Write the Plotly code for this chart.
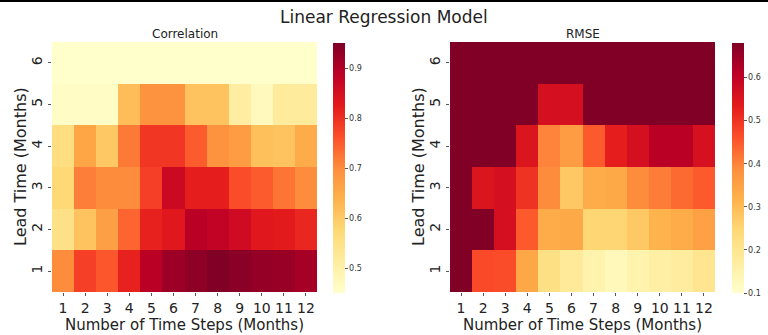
import plotly.graph_objects as go

# Axis categories
time_steps = list(range(1, 13))
lead_times = [1, 2, 3, 4, 5, 6]
tick_labels_steps = [str(s) for s in time_steps]
tick_labels_leads = [str(l) for l in lead_times]

# Correlation by lead time (rows: lead 1..6, columns: time steps 1..12)
corr_lead1 = [0.70, 0.78, 0.755, 0.815, 0.89, 0.92, 0.935, 0.95, 0.94, 0.93, 0.925, 0.91]
corr_lead2 = [0.55, 0.61, 0.67, 0.74, 0.815, 0.83, 0.89, 0.88, 0.86, 0.83, 0.825, 0.81]
corr_lead3 = [0.575, 0.715, 0.70, 0.70, 0.78, 0.865, 0.82, 0.82, 0.765, 0.75, 0.725, 0.70]
corr_lead4 = [0.56, 0.66, 0.60, 0.72, 0.79, 0.79, 0.75, 0.69, 0.675, 0.615, 0.61, 0.65]
corr_lead5 = [0.46, 0.46, 0.46, 0.62, 0.69, 0.69, 0.61, 0.61, 0.51, 0.47, 0.52, 0.52]
corr_lead6 = [0.45, 0.45, 0.45, 0.45, 0.45, 0.45, 0.45, 0.45, 0.45, 0.45, 0.45, 0.45]
correlation = [corr_lead1, corr_lead2, corr_lead3, corr_lead4, corr_lead5, corr_lead6]

# RMSE by lead time (rows: lead 1..6, columns: time steps 1..12)
rmse_lead1 = [0.68, 0.47, 0.465, 0.34, 0.22, 0.185, 0.15, 0.13, 0.15, 0.165, 0.175, 0.20]
rmse_lead2 = [0.68, 0.68, 0.565, 0.45, 0.33, 0.335, 0.25, 0.25, 0.275, 0.315, 0.33, 0.35]
rmse_lead3 = [0.68, 0.55, 0.565, 0.50, 0.39, 0.275, 0.33, 0.335, 0.39, 0.41, 0.43, 0.45]
rmse_lead4 = [0.68, 0.68, 0.68, 0.55, 0.40, 0.36, 0.45, 0.53, 0.565, 0.61, 0.61, 0.56]
rmse_lead5 = [0.68, 0.68, 0.68, 0.68, 0.565, 0.565, 0.68, 0.68, 0.68, 0.68, 0.68, 0.68]
rmse_lead6 = [0.68, 0.68, 0.68, 0.68, 0.68, 0.68, 0.68, 0.68, 0.68, 0.68, 0.68, 0.68]
rmse = [rmse_lead1, rmse_lead2, rmse_lead3, rmse_lead4, rmse_lead5, rmse_lead6]

corr_ticks = [0.5, 0.6, 0.7, 0.8, 0.9]
rmse_ticks = [0.1, 0.2, 0.3, 0.4, 0.5, 0.6]

# ColorBrewer YlOrRd (9 classes)
ylorrd = ["#ffffcc", "#ffeda0", "#fed976", "#feb24c", "#fd8d3c",
          "#fc4e2a", "#e31a1c", "#bd0026", "#800026"]
colorscale = [[i / (len(ylorrd) - 1), c] for i, c in enumerate(ylorrd)]

W, H = 768, 335
FONT = "DejaVu Sans"


def px_x(p):
    return p / W


def px_y(p):
    return 1 - p / H


plot_top, plot_bottom = 42, 292
left_x0, left_x1 = 52, 317
right_x0, right_x1 = 450, 715


def colorbar(x_left, ticks):
    return dict(
        x=px_x(x_left), xanchor="left", xpad=0,
        y=px_y((43 + 293) / 2), yanchor="middle", ypad=0,
        len=250 / H, lenmode="fraction", thickness=12,
        outlinewidth=0, tickvals=ticks, ticks="outside", ticklen=3,
        tickcolor="#555", tickfont=dict(family=FONT, size=8, color="#333"),
    )


fig = go.Figure()
fig.add_trace(go.Heatmap(
    x=time_steps, y=lead_times, z=correlation, zmin=0.45, zmax=0.95,
    colorscale=colorscale, colorbar=colorbar(333, corr_ticks),
    xaxis="x", yaxis="y",
))
fig.add_trace(go.Heatmap(
    x=time_steps, y=lead_times, z=rmse, zmin=0.1, zmax=0.68,
    colorscale=colorscale, colorbar=colorbar(732, rmse_ticks),
    xaxis="x2", yaxis="y2",
))

x_common = dict(
    range=[0.5, 12.5], tickvals=time_steps, ticktext=tick_labels_steps,
    ticks="outside", ticklen=3, tickcolor="#555", showgrid=False, zeroline=False,
    showline=False, tickfont=dict(family=FONT, size=14, color="#222"),
    title=dict(text="Number of Time Steps (Months)", standoff=2,
               font=dict(family=FONT, size=15, color="#222")),
)
y_common = dict(
    range=[0.5, 6.5], tickvals=lead_times, ticktext=tick_labels_leads,
    tickangle=-90, ticks="outside", ticklen=3, tickcolor="#555",
    showgrid=False, zeroline=False, showline=False,
    domain=[px_y(plot_bottom), px_y(plot_top)],
    tickfont=dict(family=FONT, size=14, color="#222"),
)


def text_note(text, x, y, size, angle=0):
    return dict(text=text, x=x, y=y, xref="paper", yref="paper",
                xanchor="center", yanchor="middle", showarrow=False,
                textangle=angle, font=dict(family=FONT, size=size, color="#222"))


plot_mid_y = px_y((plot_top + plot_bottom) / 2)

fig.update_layout(
    width=W, height=H, margin=dict(l=0, r=0, t=0, b=0),
    paper_bgcolor="white", plot_bgcolor="white",
    xaxis=dict(domain=[px_x(left_x0), px_x(left_x1)], anchor="y", **x_common),
    yaxis=dict(anchor="x", **y_common),
    xaxis2=dict(domain=[px_x(right_x0), px_x(right_x1)], anchor="y2", **x_common),
    yaxis2=dict(anchor="x2", **y_common),
    showlegend=False,
    annotations=[
        text_note("Linear Regression Model", 0.5, px_y(17), 17),
        text_note("Correlation", px_x((left_x0 + left_x1) / 2), px_y(34), 12),
        text_note("RMSE", px_x((right_x0 + right_x1) / 2), px_y(34), 12),
        text_note("Lead Time (Months)", px_x(21), plot_mid_y, 16, -90),
        text_note("Lead Time (Months)", px_x(419), plot_mid_y, 16, -90),
    ],
    shapes=[
        dict(type="line", xref="paper", yref="paper", x0=0, x1=1, y0=px_y(1), y1=px_y(1),
             line=dict(color="black", width=2)),
    ],
)

fig.write_html("out.html")
